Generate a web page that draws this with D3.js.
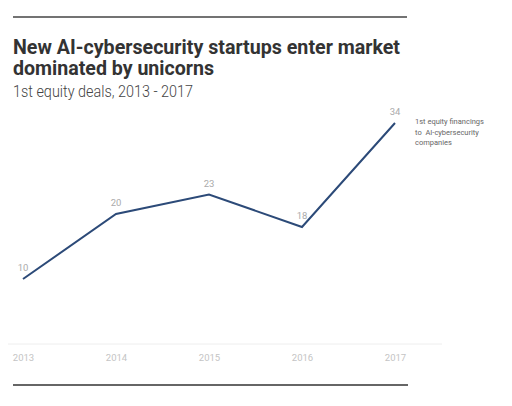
<!DOCTYPE html>
<html>
<head>
<meta charset="utf-8">
<script src="https://cdn.jsdelivr.net/npm/d3@7"></script>
<style>
  body { margin: 0; background: #fff; }
  svg { display: block; font-family: Roboto, "Noto Sans", sans-serif; }
</style>
</head>
<body>
<div id="chart"></div>
<script>
// data
var years = ["2013", "2014", "2015", "2016", "2017"];
var deals = [10, 20, 23, 18, 34];
var titleLines = ["New AI-cybersecurity startups enter market", "dominated by unicorns"];
var noteLines = ["1st equity financings", "to  AI-cybersecurity", "companies"];

var width = 512, height = 406;
var svg = d3.select("#chart").append("svg")
  .attr("width", width)
  .attr("height", height);

// top and bottom rules
svg.append("line").attr("x1", 13).attr("x2", 407).attr("y1", 17).attr("y2", 17)
  .attr("stroke", "#444").attr("stroke-width", 1.3);
svg.append("line").attr("x1", 13).attr("x2", 408).attr("y1", 385).attr("y2", 385)
  .attr("stroke", "#666").attr("stroke-width", 2);

// title, one text block with two lines squeezed to the reference width
var titleWidths = [387, 201];
svg.append("text")
  .style("font-size", "20px").style("font-weight", "bold").style("fill", "#333")
  .selectAll("tspan")
  .data(titleLines)
  .enter()
  .append("tspan")
    .attr("x", 13)
    .attr("y", function(d, i) { return 54 + i * 21; })
    .attr("textLength", function(d, i) { return titleWidths[i]; })
    .attr("lengthAdjust", "spacingAndGlyphs")
    .text(function(d) { return d; });

svg.append("text").attr("x", 13).attr("y", 97)
  .attr("textLength", 180).attr("lengthAdjust", "spacingAndGlyphs")
  .style("font-size", "16px").style("font-weight", 300).style("fill", "#444")
  .text("1st equity deals, 2013 - 2017");

// scales
var x = d3.scalePoint().domain(years).range([23, 395]);
var y = d3.scaleLinear().domain([0, 34]).range([344, 123]);

// baseline
svg.append("line").attr("x1", 8).attr("x2", 442)
  .attr("y1", y(0)).attr("y2", y(0))
  .attr("stroke", "#eee").attr("stroke-width", 1);

// x axis
var xAxis = svg.append("g")
  .attr("transform", "translate(0," + y(0) + ")")
  .call(d3.axisBottom(x).tickSize(0).tickPadding(10));
xAxis.select(".domain").remove();
xAxis.selectAll("text")
  .style("font-size", "9.5px").style("fill", "#c4c4c4")
  .style("font-family", "Roboto, sans-serif");

// line
var line = d3.line()
  .x(function(d, i) { return x(years[i]); })
  .y(function(d) { return y(d); });
svg.append("path")
  .datum(deals)
  .attr("d", line)
  .attr("fill", "none")
  .attr("stroke", "#2c4a78")
  .attr("stroke-width", 2);

// value labels
svg.selectAll(".val")
  .data(deals)
  .enter()
  .append("text")
    .attr("class", "val")
    .attr("x", function(d, i) { return x(years[i]); })
    .attr("y", function(d) { return y(d) - 8; })
    .attr("text-anchor", "middle")
    .style("font-size", "9.5px").style("fill", "#aaa")
    .text(function(d) { return d; });

// annotation
svg.selectAll(".note")
  .data(noteLines)
  .enter()
  .append("text")
    .attr("class", "note")
    .attr("x", 415)
    .attr("y", function(d, i) { return 124 + i * 10.5; })
    .style("font-size", "7.5px").style("fill", "#666")
    .style("white-space", "pre")
    .text(function(d) { return d; });
</script>
</body>
</html>
